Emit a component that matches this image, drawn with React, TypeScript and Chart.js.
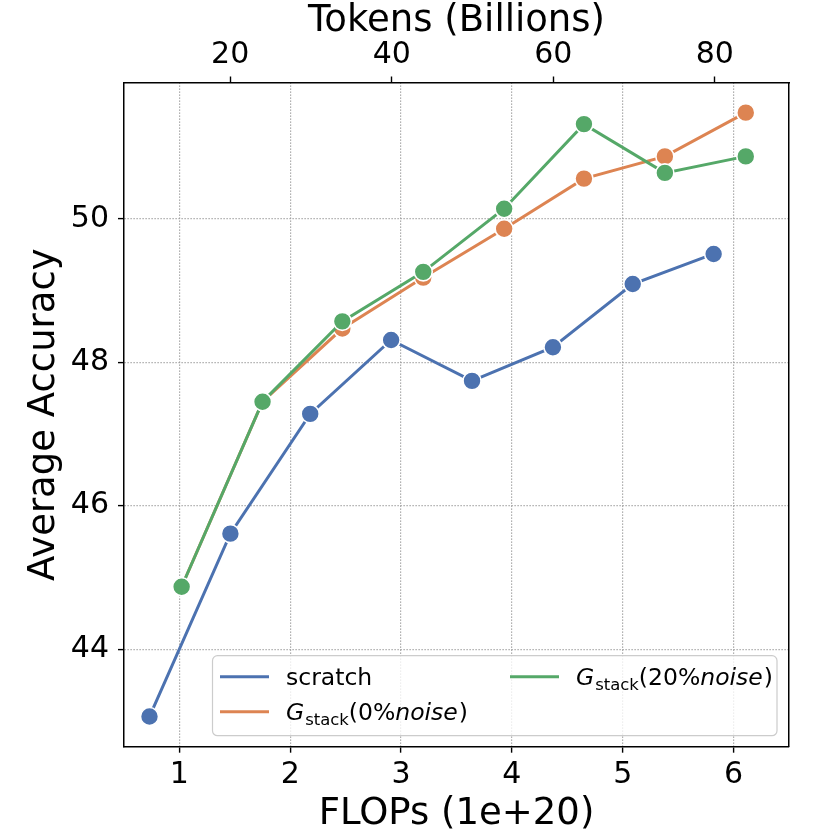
import { useEffect, useRef } from "react";
import Chart, { ChartOptions, Plugin } from "chart.js/auto";

// FLOPs (1e+20) for each run
const flopsScratch = [0.73, 1.46, 2.18, 2.91, 3.64, 4.37, 5.09, 5.82];
const flopsStack = [1.02, 1.75, 2.47, 3.2, 3.93, 4.65, 5.38, 6.11];

// Average accuracy
const accScratch = [43.06, 45.61, 47.28, 48.31, 47.74, 48.21, 49.09, 49.51];
const accStack0 = [44.87, 47.45, 48.47, 49.18, 49.86, 50.56, 50.87, 51.48];
const accStack20 = [44.87, 47.45, 48.57, 49.26, 50.14, 51.32, 50.64, 50.87];

const seriesLabels = ["scratch", "G_stack(0%noise)", "G_stack(20%noise)"];
const seriesColors = ["#4C72B0", "#DD8452", "#55A868"];

const xTicks = [1, 2, 3, 4, 5, 6];
const tokenTicks = [20, 40, 60, 80];
const yTicks = [44, 46, 48, 50];

const xRange = [0.5, 6.5];
const yRange = [42.64, 51.9];
const tokensPerFlop = 13.72; // top axis: Tokens (Billions)

const FONT = "'DejaVu Sans', sans-serif";

type Part = { text: string; italic?: boolean; sub?: boolean };

// mathtext-like label: G_stack(20%noise)
const labelParts = (label: string): Part[] => {
  const m = /^G_stack\((.*)noise\)$/.exec(label);
  if (!m) return [{ text: label }];
  return [
    { text: "G", italic: true },
    { text: "stack", sub: true },
    { text: "(" + m[1] },
    { text: "noise", italic: true },
    { text: ")" },
  ];
};

const drawLabel = (ctx: CanvasRenderingContext2D, label: string, x: number, y: number, size: number) => {
  let cx = x;
  for (const p of labelParts(label)) {
    const s = p.sub ? size * 0.7 : size;
    ctx.font = `${p.italic ? "italic " : ""}${s}px ${FONT}`;
    ctx.fillText(p.text, cx, p.sub ? y + 4.5 : y);
    cx += ctx.measureText(p.text).width + (p.italic && !p.sub ? 1 : 0);
  }
};

// legend drawn inside the axes, two columns filled column-first
const mathLegend: Plugin<"line"> = {
  id: "mathLegend",
  afterDatasetsDraw(chart) {
    const { ctx, chartArea: ca } = chart;
    ctx.save();
    const x0 = ca.left + 88.5;
    const x1 = ca.right - 12;
    const y0 = ca.bottom - 91;
    const y1 = ca.bottom - 11;
    ctx.beginPath();
    ctx.roundRect(x0, y0, x1 - x0, y1 - y0, 5);
    ctx.fillStyle = "rgba(255,255,255,0.8)";
    ctx.fill();
    ctx.strokeStyle = "#cccccc";
    ctx.lineWidth = 1.2;
    ctx.stroke();

    const slots = [[0, 0], [0, 1], [1, 0]];
    chart.data.datasets.forEach((ds, i) => {
      const [col, row] = slots[i];
      const lx = ca.left + (col ? 386 : 96);
      const ly = ca.bottom - (row ? 35 : 70);
      ctx.strokeStyle = ds.borderColor as string;
      ctx.lineWidth = 3;
      ctx.beginPath();
      ctx.moveTo(lx, ly);
      ctx.lineTo(lx + 49, ly);
      ctx.stroke();
      ctx.fillStyle = "#000";
      ctx.textBaseline = "alphabetic";
      ctx.textAlign = "left";
      drawLabel(ctx, ds.label as string, lx + 66, ly + 8.3, 23.5);
    });
    ctx.restore();
  },
};

const makeSeries = (xs: number[], ys: number[], i: number, order: number) => ({
  label: seriesLabels[i],
  data: xs.map((x, k) => ({ x, y: ys[k] })),
  borderColor: seriesColors[i],
  backgroundColor: seriesColors[i],
  pointBackgroundColor: seriesColors[i],
  pointBorderColor: "#ffffff",
  pointBorderWidth: 1.6,
  pointRadius: 9,
  borderWidth: 3,
  tension: 0,
  order,
});

export default function App() {
  const canvasRef = useRef<HTMLCanvasElement | null>(null);
  const chartRef = useRef<Chart | null>(null);

  useEffect(() => {
    document.body.style.margin = "0";
    if (!canvasRef.current) return;
    if (chartRef.current) chartRef.current.destroy();

    const tickFont = { family: FONT, size: 30 };
    const titleFont = { family: FONT, size: 37 };
    const gridDotted = { color: "#999999", lineWidth: 1.2, tickLength: 6, tickColor: "#000", tickWidth: 1.4 };
    const frame = { display: true, color: "#000", width: 1.5 };

    const options: ChartOptions<"line"> = {
      responsive: false,
      animation: false,
      events: [],
      layout: { padding: 0 },
      plugins: { legend: { display: false }, tooltip: { enabled: false } },
      scales: {
        x: {
          type: "linear",
          position: "bottom",
          min: xRange[0],
          max: xRange[1],
          afterBuildTicks: (s) => { s.ticks = xTicks.map((value) => ({ value })); },
          afterFit: (s) => { s.height = 83.3; },
          ticks: { font: tickFont, color: "#000", padding: 4.4 },
          grid: gridDotted,
          border: { ...frame, dash: [1.2, 1.8] },
          title: { display: true, text: "FLOPs (1e+20)", font: titleFont, color: "#000", padding: { top: 0, bottom: -7 } },
        },
        x2: {
          type: "linear",
          position: "top",
          min: xRange[0] * tokensPerFlop,
          max: xRange[1] * tokensPerFlop,
          afterBuildTicks: (s) => { s.ticks = tokenTicks.map((value) => ({ value })); },
          afterFit: (s) => { s.height = 82.5; },
          ticks: { font: tickFont, color: "#000", padding: 3.1 },
          grid: { drawOnChartArea: false, tickLength: 6, tickColor: "#000", tickWidth: 1.4 },
          border: frame,
          title: { display: true, text: "Tokens (Billions)", font: titleFont, color: "#000", padding: { top: -1, bottom: 0 } },
        },
        y: {
          type: "linear",
          position: "left",
          min: yRange[0],
          max: yRange[1],
          afterBuildTicks: (s) => { s.ticks = yTicks.map((value) => ({ value })); },
          afterFit: (s) => { s.width = 124; },
          ticks: { font: tickFont, color: "#000", padding: 9 },
          grid: gridDotted,
          border: { ...frame, dash: [1.2, 1.8] },
          title: { display: true, text: "Average Accuracy", font: titleFont, color: "#000", padding: { top: 22, bottom: 0 } },
        },
        y2: {
          type: "linear",
          position: "right",
          min: yRange[0],
          max: yRange[1],
          afterFit: (s) => { s.width = 41; },
          ticks: { display: false },
          grid: { display: false },
          border: frame,
        },
      },
    };

    chartRef.current = new Chart(canvasRef.current, {
      type: "line",
      data: {
        datasets: [
          makeSeries(flopsScratch, accScratch, 0, 3),
          makeSeries(flopsStack, accStack0, 1, 2),
          makeSeries(flopsStack, accStack20, 2, 1),
        ],
      },
      options,
      plugins: [mathLegend],
    });

    return () => {
      if (chartRef.current) {
        chartRef.current.destroy();
        chartRef.current = null;
      }
    };
  }, []);

  return (
    <div style={{ width: 830, height: 830 }}>
      <canvas ref={canvasRef} width={830} height={830} style={{ display: "block" }} />
    </div>
  );
}
